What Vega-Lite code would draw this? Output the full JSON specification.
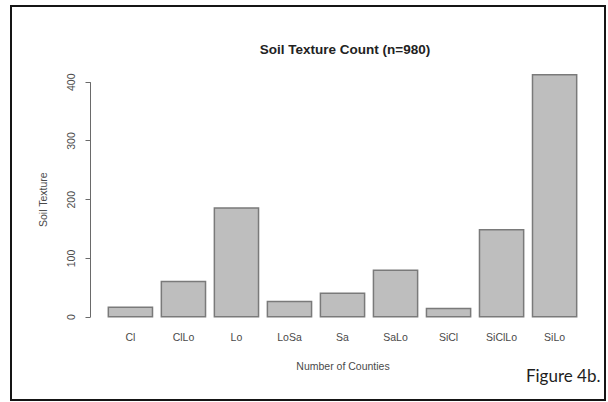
{
  "$schema": "https://vega.github.io/schema/vega-lite/v6.json",
  "width": 594,
  "height": 394,
  "autosize": {"type": "none"},
  "padding": {"left": 11, "top": 6, "right": 3, "bottom": 2},
  "background": "white",
  "config": {
    "view": {"stroke": "#151515", "strokeWidth": 2},
    "font": "Liberation Sans"
  },
  "title": {
    "text": "Soil Texture Count (n=980)",
    "font": "Liberation Sans",
    "fontSize": 13.5,
    "fontWeight": "bold",
    "color": "#222222",
    "anchor": "middle",
    "frame": "group",
    "dx": 37,
    "baseline": "alphabetic",
    "offset": -61
  },
  "data": {
    "values": [
      {"texture": "Cl", "count": 16},
      {"texture": "ClLo", "count": 60},
      {"texture": "Lo", "count": 185},
      {"texture": "LoSa", "count": 26},
      {"texture": "Sa", "count": 40},
      {"texture": "SaLo", "count": 79},
      {"texture": "SiCl", "count": 14},
      {"texture": "SiClLo", "count": 148},
      {"texture": "SiLo", "count": 412}
    ]
  },
  "encoding": {
    "x": {
      "field": "texture",
      "type": "nominal",
      "sort": null,
      "scale": {"range": [78.6, 584.4], "paddingInner": 0.1667, "paddingOuter": 0.353},
      "axis": {
        "orient": "bottom",
        "offset": -74,
        "domain": false,
        "ticks": false,
        "labelAngle": 0,
        "labelPadding": 6,
        "labelFontSize": 10.5,
        "labelColor": "#4a4a4a",
        "title": "Number of Counties",
        "titleFontSize": 10.5,
        "titleFontWeight": "normal",
        "titleColor": "#4a4a4a",
        "titlePadding": 19
      }
    },
    "y": {
      "field": "count",
      "type": "quantitative",
      "scale": {"domain": [0, 400], "range": [310.7, 75.7], "nice": false, "zero": true}
    }
  },
  "layer": [
    {
      "mark": {"type": "bar", "fill": "#bebebe", "strokeWidth": 0},
      "encoding": {
        "y": {
          "field": "count",
          "type": "quantitative",
          "axis": {
            "orient": "left",
            "offset": -79,
            "values": [0, 100, 200, 300, 400],
            "grid": false,
            "domainColor": "#6a6a6a",
            "tickColor": "#6a6a6a",
            "tickSize": 5,
            "labelAngle": -90,
            "labelPadding": 9,
            "labelFontSize": 10.5,
            "labelColor": "#4a4a4a",
            "title": "Soil Texture",
            "titleFontSize": 10.5,
            "titleFontWeight": "normal",
            "titleColor": "#4a4a4a",
            "titlePadding": 18
          }
        }
      }
    },
    {
      "mark": {"type": "bar", "fillOpacity": 0, "stroke": "#7a7a7a", "strokeWidth": 1.5},
      "encoding": {
        "y": {
          "field": "count",
          "type": "quantitative",
          "axis": {
            "orient": "right",
            "domain": false,
            "ticks": false,
            "labels": false,
            "grid": false,
            "title": "Figure 4b.",
            "titleAngle": 0,
            "titleAlign": "right",
            "titleBaseline": "alphabetic",
            "titleX": -5,
            "titleY": 375,
            "titleFont": "Lato",
            "titleFontSize": 17,
            "titleFontWeight": "normal",
            "titleColor": "#1e1e1e"
          }
        }
      }
    }
  ],
  "resolve": {"axis": {"y": "independent"}}
}
